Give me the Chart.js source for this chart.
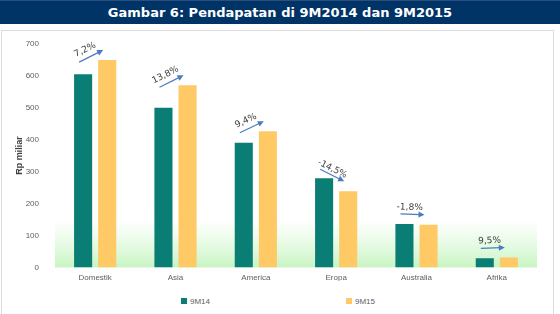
<!DOCTYPE html>
<html>
<head>
<meta charset="utf-8">
<script src="https://cdn.jsdelivr.net/npm/chart.js@4/dist/chart.umd.min.js"></script>
<style>
    body { margin: 0; width: 560px; height: 314px; overflow: hidden; background: #fff; font-family: "DejaVu Sans", Verdana, sans-serif; }
    .title-bar { position: absolute; left: 0; top: 0; width: 560px; height: 24px; background: #003366; border-top: 1px solid #2b4f7e; box-sizing: border-box; color: #fff; font-weight: bold; font-size: 13px; line-height: 23px; text-align: center; }
    .chart-box { position: absolute; left: 1px; top: 30px; width: 553px; height: 290px; border: 1px solid #dcdcdc; box-sizing: border-box; }
    canvas { display: block; }
    .legend { position: absolute; top: 264px; left: 0; width: 100%; height: 14px; font-family: "Liberation Sans", sans-serif; font-size: 8px; color: #606060; }
    .legend span { position: absolute; top: 0; line-height: 14px; }
    .legend i { display: inline-block; width: 6px; height: 6px; margin-right: 3px; vertical-align: 0; }
</style>
</head>
<body>
<div class="title-bar">Gambar 6: Pendapatan di 9M2014 dan 9M2015</div>
<div class="chart-box">
    <canvas id="revenueChart" width="551" height="262"></canvas>
    <div class="legend" id="legend"></div>
</div>
<script>
const categories = ["Domestik", "Asia", "America", "Eropa", "Australia", "Afrika"];
const revenue9M14 = [605, 500, 390, 279, 136, 28.5];
const revenue9M15 = [649, 570, 426, 238.5, 133.5, 31.2];
const growthLabels = ["7,2%", "13,8%", "9,4%", "-14,5%", "-1,8%", "9,5%"];
const yTicks = [0, 100, 200, 300, 400, 500, 600, 700];

const greenBand = {
    id: "greenBand",
    beforeDatasetsDraw(chart) {
        const { ctx, chartArea, scales } = chart;
        const top = scales.y.getPixelForValue(150);
        const grad = ctx.createLinearGradient(0, top, 0, chartArea.bottom);
        grad.addColorStop(0, "rgba(215,248,210,0)");
        grad.addColorStop(1, "rgba(200,245,195,1)");
        ctx.save();
        ctx.fillStyle = grad;
        ctx.fillRect(chartArea.left, top, chartArea.right - chartArea.left, chartArea.bottom - top);
        ctx.restore();
    }
};

const growthArrows = {
    id: "growthArrows",
    afterDatasetsDraw(chart) {
        const ctx = chart.ctx;
        const barsA = chart.getDatasetMeta(0).data;
        const barsB = chart.getDatasetMeta(1).data;
        ctx.save();
        growthLabels.forEach((label, i) => {
            const a = barsA[i], b = barsB[i];
            const mid = (a.x + b.x) / 2 - 4;
            const x1 = mid - 12, x2 = mid + 12;
            const y2 = b.y - 10;
            const dy = Math.max(-12, Math.min(12, b.y - a.y));
            const y1 = y2 - dy;
            const ang = Math.atan2(y2 - y1, x2 - x1);

            ctx.strokeStyle = "#4a7cc0";
            ctx.fillStyle = "#4a7cc0";
            ctx.lineWidth = 1.2;
            ctx.beginPath();
            ctx.moveTo(x1, y1);
            ctx.lineTo(x2 - 4 * Math.cos(ang), y2 - 4 * Math.sin(ang));
            ctx.stroke();
            ctx.beginPath();
            ctx.moveTo(x2, y2);
            ctx.lineTo(x2 - 6 * Math.cos(ang) + 3 * Math.sin(ang), y2 - 6 * Math.sin(ang) - 3 * Math.cos(ang));
            ctx.lineTo(x2 - 6 * Math.cos(ang) - 3 * Math.sin(ang), y2 - 6 * Math.sin(ang) + 3 * Math.cos(ang));
            ctx.closePath();
            ctx.fill();

            const tx = (x1 + x2) / 2 + 7 * Math.sin(ang) - 3;
            const ty = (y1 + y2) / 2 - 7 * Math.cos(ang);
            ctx.translate(tx, ty);
            ctx.rotate(ang);
            ctx.fillStyle = "#404040";
            ctx.font = "9px 'DejaVu Sans'";
            ctx.textAlign = "center";
            ctx.textBaseline = "middle";
            ctx.fillText(label, 0, 0);
            ctx.setTransform(1, 0, 0, 1, 0, 0);
        });
        ctx.restore();
    }
};

const chart = new Chart("revenueChart", {
    type: "bar",
    data: {
        labels: categories,
        datasets: [
            { label: "9M14", data: revenue9M14, backgroundColor: "#0a7e74" },
            { label: "9M15", data: revenue9M15, backgroundColor: "#ffc965" }
        ]
    },
    options: {
        responsive: false,
        animation: false,
        categoryPercentage: 0.6,
        barPercentage: 0.75,
        layout: { padding: { top: 10, right: 16, left: 8, bottom: 12 } },
        scales: {
            x: {
                grid: { display: false },
                border: { display: false },
                ticks: { color: "#606060", font: { family: "Liberation Sans", size: 8 }, padding: -2 }
            },
            y: {
                min: 0,
                max: 700,
                afterBuildTicks: axis => { axis.ticks = yTicks.map(v => ({ value: v })); },
                grid: { display: false },
                border: { display: false },
                ticks: { color: "#606060", font: { family: "Liberation Sans", size: 8 }, padding: 8 },
                title: { display: true, text: "Rp miliar", color: "#404040", font: { family: "Liberation Sans", size: 9, weight: "bold" } },
                afterFit: s => { s.width = 45; }
            }
        },
        plugins: {
            legend: { display: false },
            tooltip: { enabled: false }
        }
    },
    plugins: [greenBand, growthArrows]
});

// legend items placed under the chart like the original
const legendEl = document.getElementById("legend");
const legendLeft = [179, 344];
chart.data.datasets.forEach((ds, i) => {
    const item = document.createElement("span");
    item.style.left = legendLeft[i] + "px";
    item.innerHTML = '<i style="background:' + ds.backgroundColor + '"></i>' + ds.label;
    legendEl.appendChild(item);
});
</script>
</body>
</html>
